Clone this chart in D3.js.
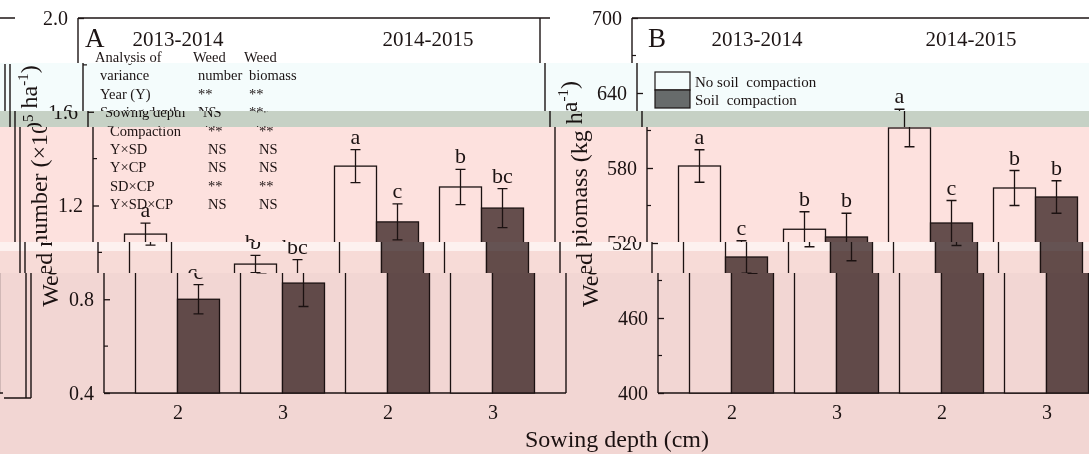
<!DOCTYPE html>
<html>
<head>
<meta charset="utf-8">
<script src="https://cdn.jsdelivr.net/npm/d3@7"></script>
<style>
  body { margin: 0; background: #fff; }
  svg { display: block; font-family: "Liberation Serif", "DejaVu Serif", serif; }
</style>
</head>
<body>
<svg id="chart" width="1089" height="454"></svg>
<script>
// data
const depths = ["2", "3", "2", "3"];
const years = ["2013-2014", "2014-2015"];
const legendLabels = ["No soil  compaction", "Soil  compaction"];

const numberTicks = [0.4, 0.8, 1.2, 1.6, 2.0];
const numberMinor = [0.6, 1.0, 1.4, 1.8];
const numberNoComp = [1.078, 0.95, 1.368, 1.279];
const numberNoCompErr = [0.047, 0.037, 0.07, 0.075];
const numberComp = [0.80, 0.869, 1.13, 1.189];
const numberCompErr = [0.062, 0.10, 0.077, 0.083];
const numberNoCompLetters = ["a", "b", "a", "b"];
const numberCompLetters = ["c", "bc", "c", "bc"];

const biomassTicks = [400, 460, 520, 580, 640, 700];
const biomassMinor = [430, 490, 550, 610, 670];
const biomassNoComp = [581.6, 531, 612, 564];
const biomassNoCompErr = [13, 14, 15, 14];
const biomassComp = [508.8, 524.8, 536, 556.8];
const biomassCompErr = [13, 19, 18, 13];
const biomassNoCompLetters = ["a", "b", "a", "b"];
const biomassCompLetters = ["c", "b", "c", "b"];

const anovaHead1 = ["Analysis of", "Weed", "Weed"];
const anovaHead2 = ["variance", "number", "biomass"];
const anovaSources = ["Year (Y)", "Sowing depth", "Compaction", "Y×SD", "Y×CP", "SD×CP", "Y×SD×CP"];
const anovaNumber = ["**", "NS", "**", "NS", "NS", "**", "NS"];
const anovaBiomass = ["**", "**", "**", "NS", "NS", "**", "NS"];

const W = 1089, H = 454;
const ink = "#1c1414";
const darkFill = "#665858";

const svg = d3.select("#chart");
const defs = svg.append("defs");
const base = defs.append("g").attr("id", "base");

const plotTop = 18, plotBottom = 393, panelW = 462, bw = 42;

function drawPanel(cfg) {
  const g = base.append("g");
  const x0 = cfg.x0, x1 = x0 + panelW;
  const y = d3.scaleLinear().domain(cfg.domain).range([plotBottom, plotTop]);
  const x = d3.scalePoint().domain(d3.range(depths.length)).range([x0, x1]).padding(0.7);

  // frame
  const fr = g.append("g").attr("stroke", ink).attr("stroke-width", 1.4);
  fr.append("line").attr("x1", x0).attr("x2", x1 + 10).attr("y1", plotTop).attr("y2", plotTop);
  fr.append("line").attr("x1", x0).attr("x2", cfg.axisEnd).attr("y1", plotBottom).attr("y2", plotBottom);
  fr.append("line").attr("x1", x0).attr("x2", x0).attr("y1", plotTop).attr("y2", plotBottom);
  if (cfg.rightEdge) {
    fr.append("line").attr("x1", x1).attr("x2", x1).attr("y1", plotTop).attr("y2", plotBottom);
  }

  // y axis
  const ax = g.append("g").attr("transform", `translate(${x0},0)`)
    .call(d3.axisLeft(y).tickValues(cfg.ticks).tickFormat(cfg.fmt)
      .tickSizeInner(-6).tickSizeOuter(0).tickPadding(10));
  ax.select(".domain").remove();
  ax.selectAll("line").attr("stroke", ink).attr("stroke-width", 1.3);
  ax.selectAll("text").attr("font-size", 20).attr("fill", ink)
    .attr("font-family", "Liberation Serif");
  g.append("g").selectAll("line").data(cfg.minor).enter().append("line")
    .attr("x1", x0).attr("x2", x0 + 4)
    .attr("y1", d => y(d)).attr("y2", d => y(d))
    .attr("stroke", ink).attr("stroke-width", 1.2);

  // x labels
  const bx = g.append("g").attr("transform", `translate(0,${plotBottom})`)
    .call(d3.axisBottom(x).tickSize(0).tickPadding(12).tickFormat(i => depths[i]));
  bx.select(".domain").remove();
  bx.selectAll("text").attr("font-size", 20).attr("fill", ink)
    .attr("font-family", "Liberation Serif");

  // bars
  const series = [
    { vals: cfg.noComp, err: cfg.noCompErr, lab: cfg.noCompLet, off: -bw, fill: "#ffffff" },
    { vals: cfg.comp, err: cfg.compErr, lab: cfg.compLet, off: 0, fill: darkFill }
  ];
  series.forEach(s => {
    const sg = g.append("g");
    sg.selectAll("rect").data(s.vals).enter().append("rect")
      .attr("x", (d, i) => x(i) + s.off)
      .attr("y", d => y(d))
      .attr("width", bw)
      .attr("height", d => plotBottom - y(d))
      .attr("fill", s.fill)
      .attr("stroke", ink).attr("stroke-width", 1.3);
    const cxf = i => x(i) + s.off + bw / 2;
    sg.selectAll("path").data(s.vals).enter().append("path")
      .attr("d", (d, i) => {
        const c = cxf(i), a = y(d + s.err[i]), b = y(d - s.err[i]);
        return `M${c - 5},${a}H${c + 5}M${c},${a}V${b}M${c - 5},${b}H${c + 5}`;
      })
      .attr("fill", "none").attr("stroke", ink).attr("stroke-width", 1.3);
    sg.selectAll("text").data(s.vals).enter().append("text")
      .attr("x", (d, i) => cxf(i))
      .attr("y", (d, i) => y(d + s.err[i]) - 6)
      .attr("text-anchor", "middle").attr("font-size", 22).attr("fill", ink)
      .text((d, i) => s.lab[i]);
  });

  // headers
  g.append("text").attr("x", x0 + cfg.letterDx).attr("y", 47)
    .attr("font-size", 27).attr("fill", ink).text(cfg.letter);
  years.forEach((yr, i) => {
    g.append("text").attr("x", x0 + cfg.yearX[i]).attr("y", 46)
      .attr("text-anchor", "middle").attr("font-size", 21).attr("fill", ink).text(yr);
  });

  // y title
  const t = g.append("text")
    .attr("transform", `translate(${cfg.titleX},${cfg.titleY}) rotate(-90)`)
    .attr("text-anchor", "middle").attr("font-size", 24).attr("fill", ink);
  t.append("tspan").text(cfg.title[0]);
  if (cfg.title[1]) t.append("tspan").attr("dy", -9).attr("font-size", 15).text(cfg.title[1]);
  t.append("tspan").attr("dy", cfg.title[1] ? 9 : 0).text(cfg.title[2]);
  t.append("tspan").attr("dy", -9).attr("font-size", 15).text("-1");
  t.append("tspan").attr("dy", 9).text(")");
  return { x, y };
}

drawPanel({
  x0: 78, axisEnd: 540, rightEdge: true, domain: [0.4, 2.0],
  ticks: numberTicks, minor: numberMinor, fmt: d3.format(".1f"),
  noComp: numberNoComp, noCompErr: numberNoCompErr, noCompLet: numberNoCompLetters,
  comp: numberComp, compErr: numberCompErr, compLet: numberCompLetters,
  letter: "A", letterDx: 7, yearX: [100, 350],
  title: ["Weed number (×10", "5", " ha"], titleX: 32, titleY: 186
});

drawPanel({
  x0: 632, axisEnd: 1066, rightEdge: false, domain: [400, 700],
  ticks: biomassTicks, minor: biomassMinor, fmt: d3.format("d"),
  noComp: biomassNoComp, noCompErr: biomassNoCompErr, noCompLet: biomassNoCompLetters,
  comp: biomassComp, compErr: biomassCompErr, compLet: biomassCompLetters,
  letter: "B", letterDx: 16, yearX: [125, 339],
  title: ["Weed biomass (kg", null, " ha"], titleX: 572, titleY: 194
});

// extra frame lines past the right edge
base.append("path")
  .attr("d", "M1089,64V398M1094,64V398M1067,398H1094")
  .attr("fill", "none").attr("stroke", ink).attr("stroke-width", 1.4);

// ANOVA table inside panel A
const rows = [anovaHead1, anovaHead2].concat(anovaSources.map((s, i) => [s, anovaNumber[i], anovaBiomass[i]]));
const colX = [95, 193, 244];
rows.forEach((r, i) => {
  r.forEach((c, j) => {
    base.append("text").attr("x", colX[j]).attr("y", 62 + i * 18.4)
      .attr("font-size", 14.5).attr("fill", ink).text(c);
  });
});

// legend in panel B
[0, 1].forEach(i => {
  base.append("rect").attr("x", 650).attr("y", 72 + i * 18).attr("width", 35).attr("height", 18)
    .attr("fill", i ? "#6c6c6c" : "#ffffff").attr("stroke", ink).attr("stroke-width", 1.2);
  base.append("text").attr("x", 690).attr("y", 87 + i * 18)
    .attr("font-size", 15).attr("fill", ink).style("white-space", "pre").text(legendLabels[i]);
});

// shared x title
base.append("text").attr("x", 591).attr("y", 447).attr("text-anchor", "middle")
  .attr("font-size", 24).attr("fill", ink).text("Sowing depth (cm)");

// horizontal strips, each slid sideways and tinted
const bands = [
  { y0: 0, y1: 63, dx: 0, tint: "#ffffff" },
  { y0: 63, y1: 111, dx: 5, tint: "#f4fcfc" },
  { y0: 111, y1: 127, dx: 10, tint: "#c6d1c5" },
  { y0: 127, y1: 242, dx: 15, tint: "#fde1de" },
  { y0: 242, y1: 251, dx: 20, tint: "#fdf1ef" },
  { y0: 251, y1: 273, dx: 20, tint: "#f7dbd7" },
  { y0: 273, y1: H, dx: 26, tint: "#f2d6d3" }
];

bands.forEach((b, i) => {
  defs.append("clipPath").attr("id", "band" + i)
    .append("rect").attr("x", 0).attr("y", b.y0).attr("width", W).attr("height", b.y1 - b.y0);
  const g = svg.append("g").attr("clip-path", `url(#band${i})`);
  g.append("rect").attr("x", 0).attr("y", b.y0).attr("width", W).attr("height", b.y1 - b.y0).attr("fill", "#fff");
  g.append("use").attr("href", "#base").attr("x", b.dx);
  g.append("use").attr("href", "#base").attr("x", b.dx - W);
  g.append("rect").attr("x", 0).attr("y", b.y0).attr("width", W).attr("height", b.y1 - b.y0)
    .attr("fill", b.tint).style("mix-blend-mode", "multiply");
});
</script>
</body>
</html>
